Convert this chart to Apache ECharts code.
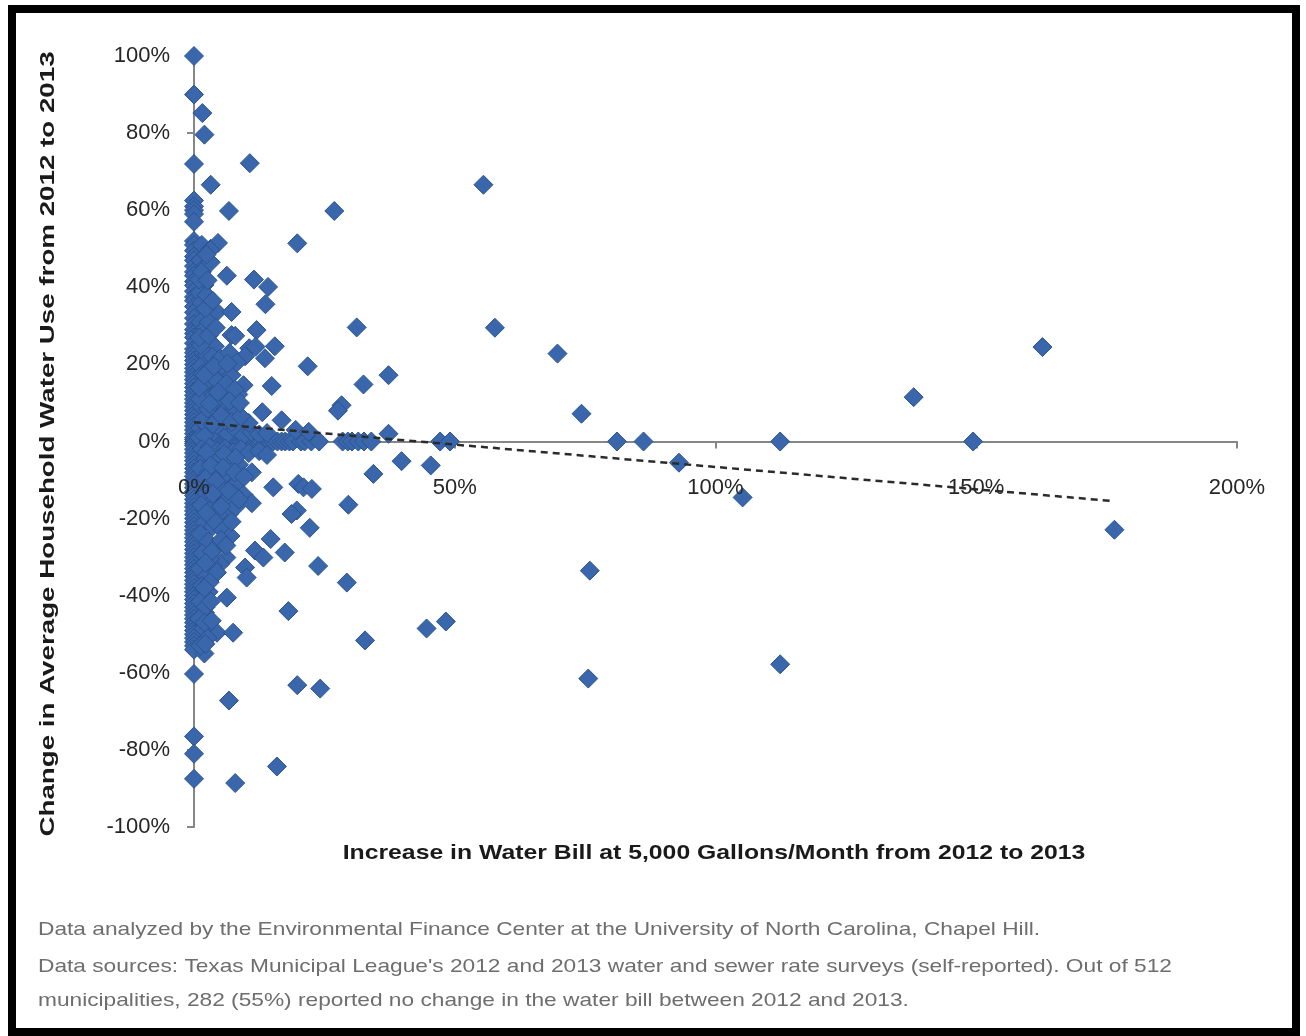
<!DOCTYPE html>
<html>
<head>
<meta charset="utf-8">
<script src="https://cdn.jsdelivr.net/npm/echarts@6/dist/echarts.min.js"></script>
<style>
  html, body { margin: 0; padding: 0; background: #fff; }
  #frame { position: absolute; left: 8px; top: 5px; width: 1276px; height: 1015px; border: 8px solid #000; box-sizing: content-box; }
  #chart { position: absolute; left: 0; top: 0; width: 1306px; height: 1036px; }
</style>
</head>
<body>
<div id="frame"></div>
<div id="chart"></div>
<script>
// Municipalities whose water bill did not change (x = 0): change in household use, %
const noBillChangeUse = [
  100, 90, 72, 62.5, 61, 60, 59, 57, 52, 51, 49.5, 48, 47, 45.5, 44, 43, 41.5, 40.5, 39, 37.5,
  36.5, 35, 33.5, 32, 30.5, 29, 28, 27, 25.5, 24, 23, 22, 21, 20, 19, 18, 17, 16, 15, 14,
  13, 12, 11, 10, 9, 8, 7, 6, 5, 4, 3, 2, 1, 0.5, 0, -0.5, -1, -2, -3, -4, -5, -6, -7, -8,
  -9, -10, -11, -12, -13, -14, -15, -16, -17, -18, -19, -20, -21, -22, -23, -24, -25, -26,
  -27, -28, -29, -30, -31, -32, -33, -34, -35, -36, -37, -38, -39, -40, -41, -42, -43, -44,
  -45, -46, -47, -48, -49, -50, -51, -52, -53, -54, -60.3, -76.5, -81, -87.5
];

// Municipalities whose household use did not change (y = 0): bill increase, %
const noUseChangeBill = [
  0.5, 1, 1.5, 2, 2.5, 3, 3.5, 4, 4.5, 5, 5.5, 6, 6.5, 7, 7.5, 8, 8.5, 9, 9.5, 10, 10.5,
  11, 11.5, 12, 12.5, 13, 14.5, 15.2, 16, 16.8, 17.5, 18.3, 19, 20.5, 21.2, 22.5, 24,
  28.5, 29.5, 30.3, 31.5, 32.6, 34, 47.2, 49.1, 81.1, 86.2, 112.4, 149.4
];

// Municipalities where use went up: [bill increase %, use change %]
const useIncreased = [
  [1.6, 85.2], [2.0, 79.6], [10.7, 72.2], [3.2, 66.6], [6.7, 59.8], [26.9, 59.8], [19.8, 51.4],
  [1.5, 51], [3.2, 50], [4.6, 51.5], [3.1, 49.7], [1.2, 47], [2.2, 45.5], [6.3, 43], [11.5, 42],
  [14.2, 40.1], [2.0, 40.6], [1.0, 38.5], [13.7, 35.6], [1.4, 36], [3.1, 33.6], [4.4, 33.6],
  [7.2, 33.6], [1.2, 31], [31.2, 29.6], [1.5, 28.4], [7.2, 27.6], [7.9, 27.4], [12.0, 28.9],
  [2.5, 26], [4.0, 24.7], [10.6, 24.2], [11.8, 24.6], [15.5, 24.7], [1.8, 23], [9.8, 22.1],
  [13.6, 21.6], [3.0, 21], [1.3, 19.5], [1.6, 17.5], [2.8, 18.5], [4.6, 18], [5.8, 19],
  [7.2, 17.2], [21.8, 19.5], [32.5, 14.8], [9.5, 14.6], [14.9, 14.4], [8.5, 12.2], [3.3, 14],
  [2.2, 12.5], [5.5, 11.5], [28.3, 9.4], [27.6, 8], [4.4, 9.5], [5.8, 8], [7.8, 8.5],
  [13.1, 7.6], [16.8, 5.5], [1.5, 9], [2.8, 6], [55.5, 66.6], [57.7, 29.5], [69.7, 22.8],
  [74.3, 7.2], [37.3, 17.2], [37.3, 2], [138, 11.5], [162.7, 24.5],
  [1.2, 3.5], [2.5, 4], [3.8, 2.5], [5, 3.5], [6.5, 2], [8, 3], [9.5, 1.5], [11, 2.5],
  [12.5, 1.8], [14, 2.2], [10.5, 4.8], [19.5, 3], [22, 2.5], [6, 5.5],
  [1, 1], [2, 1.5], [1.5, 5.5], [2.6, 8.5], [1.2, 11], [2.4, 15.5], [1, 14], [2.5, 22.5],
  [1.3, 25], [2.2, 29.5], [1, 27], [2.8, 31], [2.2, 34.5], [1, 42], [2.4, 38], [1.5, 44],
  [3.5, 22], [5, 21.5], [6.8, 23], [8.2, 20.5], [4.2, 16], [6.2, 15], [7.8, 13.5],
  [3.8, 12], [6.8, 10.5],
  [3.6, 4.5], [5.2, 6.8], [7.2, 5], [9, 6.5], [3, 9.8], [4.6, 12.8], [8.8, 10], [2, 17.2],
  [3.8, 19.5], [6.4, 20.2], [2.8, 27.5], [4.2, 29.5], [3.6, 36.5], [2.6, 41.8], [3.2, 46.5],
  [2.4, 48.5]
];

// Municipalities where use went down: [bill increase %, use change %]
const useDecreased = [
  [11.1, -8], [15.2, -11.9], [20, -11], [21, -11.9], [22.6, -12.3], [29.6, -16.4],
  [34.4, -8.4], [39.8, -5.1], [45.4, -6.2], [19.7, -17.9], [18.7, -18.8], [22.2, -22.4],
  [6.3, -10.8], [8.2, -10.8], [9.5, -13.8], [11.1, -16], [6.2, -20], [6.7, -18.8],
  [14.7, -25.3], [11.7, -28.3], [13.3, -30.1], [17.4, -28.8], [23.8, -32.3], [29.3, -36.6],
  [9.8, -32.7], [10.1, -35.3], [6.2, -30.1], [5.0, -31.8], [3.6, -32.3], [6.3, -40.5],
  [18.1, -44], [2.1, -44.4], [4.4, -49.6], [7.5, -49.6], [32.8, -51.6], [44.6, -48.5],
  [48.3, -46.7], [75.9, -33.5], [75.6, -61.5], [93, -5.5], [105.2, -14.5], [112.4, -57.8],
  [176.5, -22.9], [2.0, -55], [6.7, -67.2], [19.8, -63.2], [24.2, -64.1], [15.9, -84.3],
  [7.9, -88.6],
  [1.5, -2], [3, -1.5], [4.5, -2.5], [6, -1.8], [7.5, -2.8], [9, -2], [10.5, -3], [12.5, -2.5],
  [14, -3.5], [2.2, -4.5], [3.8, -5], [5.2, -4], [7, -5.5], [8.6, -6], [1.2, -7], [2.8, -8],
  [4.4, -7.5], [6, -8.5], [1.8, -10], [3.4, -11], [5, -12], [7.5, -13.5], [2.4, -13.5],
  [4, -15], [6, -15.5], [1.4, -16.5], [3, -18], [4.6, -19], [8, -17], [2, -21], [3.6, -22],
  [5.5, -23], [7, -24.5], [1.2, -24], [2.7, -26], [4.2, -27.5], [1.6, -29], [3, -30.5],
  [1.1, -33], [2.4, -35], [1.5, -37.5], [2.8, -39], [1.2, -41.5], [2.2, -43], [1, -46],
  [1.8, -48.5], [2.6, -51], [1.2, -53],
  [2.4, -2.8], [5.8, -3.2], [8, -4.2], [3.2, -6.2], [5.6, -6.8], [7.8, -8], [9.6, -9.2],
  [2.2, -9.6], [4.2, -10.2], [6.6, -12.8], [3.6, -13.6], [8.6, -15], [5.2, -16.8],
  [7.2, -20.8], [3.8, -20.5], [2.4, -18.5], [5.2, -25.5], [6.2, -27], [3.4, -28.5],
  [2.2, -31.5], [4.4, -34], [3, -36.5], [2, -38], [3.2, -41.5], [2, -47], [3.4, -46.5],
  [2.2, -52.5]
];

// Linear trend line end points: [bill increase %, use change %]
const trendLine = [[0, 5], [175.8, -15.4]];

// Axis tick values and texts
const xTickValues = [0, 50, 100, 150, 200];
const xTitle = 'Increase in Water Bill at 5,000 Gallons/Month from 2012 to 2013';
const yTitle = 'Change in Average Household Water Use from 2012 to 2013';
const notes = [
  'Data analyzed by the Environmental Finance Center at the University of North Carolina, Chapel Hill.',
  "Data sources: Texas Municipal League's 2012 and 2013 water and sewer rate surveys (self-reported). Out of 512",
  'municipalities, 282 (55%) reported no change in the water bill between 2012 and 2013.'
];

const scatterData = []
  .concat(noBillChangeUse.map(v => [0, v]))
  .concat(noUseChangeBill.map(v => [v, 0]))
  .concat(useIncreased)
  .concat(useDecreased);

const axisGray = '#868686';
const labelFont = 'Liberation Sans';
const labelColor = '#262626';

const chart = echarts.init(document.getElementById('chart'), null, { renderer: 'canvas' });
chart.setOption({
  animation: false,
  backgroundColor: 'transparent',
  grid: { left: 194, right: 69, top: 56, bottom: 209, containLabel: false },
  xAxis: {
    type: 'value', min: 0, max: 200, interval: 50,
    axisLine: { onZero: true, lineStyle: { color: axisGray, width: 2 } },
    axisTick: { show: true, length: 7, lineStyle: { color: axisGray, width: 2 } },
    // labels are drawn below the zero line further down
    axisLabel: { show: false },
    splitLine: { show: false }
  },
  yAxis: {
    type: 'value', min: -100, max: 100, interval: 20,
    axisLine: { show: true, lineStyle: { color: axisGray, width: 2 } },
    axisTick: { show: true, length: 7, lineStyle: { color: axisGray, width: 2 } },
    axisLabel: { formatter: '{value}%', margin: 24, fontSize: 22, color: labelColor, fontFamily: labelFont },
    splitLine: { show: false }
  },
  series: [
    {
      type: 'scatter',
      data: scatterData,
      symbol: 'diamond',
      symbolSize: 19,
      itemStyle: { color: '#3A67AB', borderColor: '#2C5390', borderWidth: 1, opacity: 1 },
      z: 2
    },
    {
      type: 'line',
      data: trendLine,
      symbol: 'none',
      lineStyle: { color: '#2b2b2b', width: 2.5, type: [7, 5] },
      z: 3
    }
  ]
});

// x tick labels sit just below the horizontal zero line, on top of the markers
const zeroY = chart.convertToPixel({ yAxisIndex: 0 }, 0);
const xLabelGraphics = xTickValues.map(v => ({
  type: 'text',
  z: 100,
  x: chart.convertToPixel({ xAxisIndex: 0 }, v),
  y: zeroY + 46,
  style: { text: v + '%', x: 0, y: 0, align: 'center', verticalAlign: 'middle',
           font: '22px "Liberation Sans"', fill: labelColor }
}));

const noteFont = '19px "Liberation Sans"';
const noteRows = [930, 967, 1001];
const noteGraphics = notes.map((t, i) => ({
  type: 'text',
  x: 38, y: noteRows[i],
  scaleX: 1.195,
  style: { text: t, x: 0, y: 0, verticalAlign: 'middle', font: noteFont, fill: '#6e6e6e' }
}));

chart.setOption({
  graphic: xLabelGraphics.concat([
    {
      type: 'text',
      x: 714, y: 853, scaleX: 1.18,
      style: { text: xTitle, x: 0, y: 0, align: 'center', verticalAlign: 'middle',
               font: 'bold 21px "Liberation Sans"', fill: '#1a1a1a' }
    },
    {
      type: 'text',
      rotation: Math.PI / 2,
      x: 48, y: 444, scaleX: 1.32,
      style: { text: yTitle, x: 0, y: 0, align: 'center', verticalAlign: 'middle',
               font: 'bold 21px "Liberation Sans"', fill: '#1a1a1a' }
    }
  ]).concat(noteGraphics)
});
</script>
</body>
</html>
